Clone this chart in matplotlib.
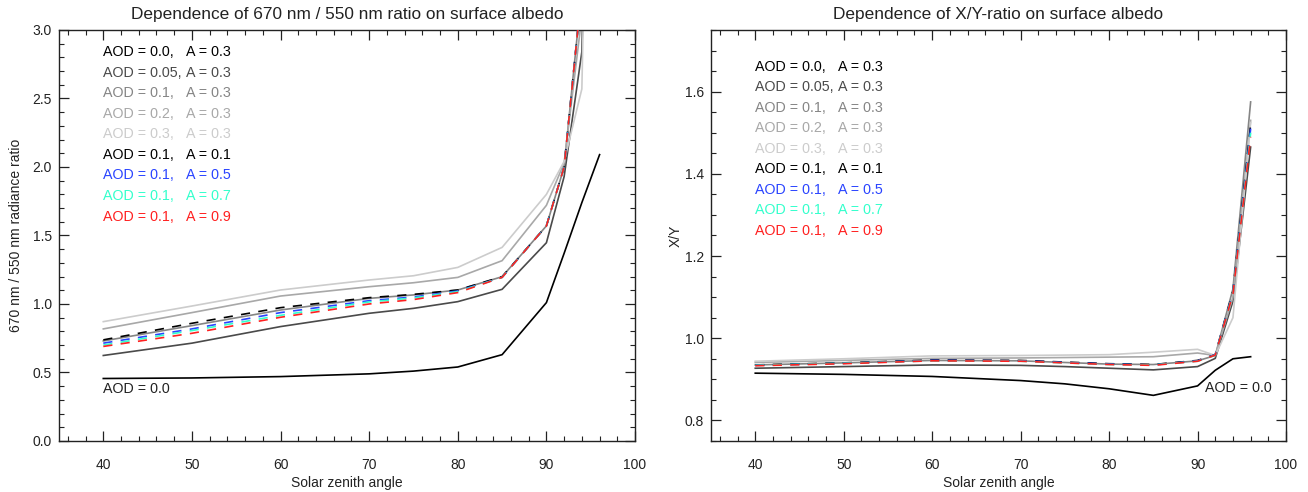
import matplotlib
matplotlib.use("Agg")
import matplotlib.pyplot as plt
from matplotlib.ticker import MultipleLocator
import matplotlib.transforms as mtransforms

plt.rcParams["font.family"] = ["Liberation Sans", "DejaVu Sans"]

# solar zenith angle grid
sza = [40, 50, 60, 70, 75, 80, 85, 90, 92, 94, 96]

# 670 nm / 550 nm radiance ratio (left panel)
ratio_aod00_a03 = [0.456, 0.46, 0.47, 0.49, 0.51, 0.54, 0.63, 1.01, 1.37, 1.74, 2.09]
ratio_aod005_a03 = [0.624, 0.714, 0.835, 0.932, 0.968, 1.017, 1.107, 1.447, 1.93, 2.84, 8.0]
ratio_aod01_a03 = [0.73, 0.842, 0.956, 1.041, 1.066, 1.102, 1.199, 1.57, 2.0, 3.3, 9.0]
ratio_aod02_a03 = [0.818, 0.937, 1.058, 1.126, 1.155, 1.194, 1.316, 1.72, 2.03, 3.1, 9.0]
ratio_aod03_a03 = [0.871, 0.985, 1.102, 1.175, 1.206, 1.267, 1.413, 1.80, 2.04, 2.57, 9.0]
ratio_aod01_a01 = [0.738, 0.859, 0.973, 1.046, 1.07, 1.102, 1.199, 1.57, 2.0, 3.3, 9.0]
ratio_aod01_a05 = [0.714, 0.818, 0.937, 1.024, 1.051, 1.095, 1.194, 1.57, 2.0, 3.3, 9.0]
ratio_aod01_a07 = [0.70, 0.806, 0.917, 1.015, 1.044, 1.09, 1.194, 1.57, 2.0, 3.3, 9.0]
ratio_aod01_a09 = [0.69, 0.786, 0.903, 1.0, 1.032, 1.083, 1.194, 1.57, 2.0, 3.3, 9.0]

# X/Y ratio (right panel)
xy_aod00_a03 = [0.915, 0.912, 0.907, 0.897, 0.889, 0.877, 0.861, 0.884, 0.922, 0.950, 0.955]
xy_aod005_a03 = [0.927, 0.931, 0.935, 0.934, 0.931, 0.927, 0.923, 0.931, 0.951, 1.09, 1.465]
xy_aod01_a03 = [0.935, 0.940, 0.946, 0.945, 0.941, 0.937, 0.936, 0.945, 0.958, 1.12, 1.575]
xy_aod02_a03 = [0.941, 0.946, 0.951, 0.952, 0.953, 0.954, 0.955, 0.964, 0.958, 1.10, 1.53]
xy_aod03_a03 = [0.944, 0.950, 0.957, 0.958, 0.959, 0.960, 0.966, 0.973, 0.958, 1.05, 1.525]
xy_aod01_a01 = [0.935, 0.940, 0.947, 0.946, 0.942, 0.938, 0.936, 0.946, 0.960, 1.115, 1.52]
xy_aod01_a05 = [0.934, 0.939, 0.946, 0.945, 0.941, 0.937, 0.935, 0.945, 0.960, 1.112, 1.51]
xy_aod01_a07 = [0.934, 0.939, 0.945, 0.944, 0.940, 0.936, 0.935, 0.944, 0.959, 1.11, 1.50]
xy_aod01_a09 = [0.933, 0.938, 0.945, 0.944, 0.940, 0.936, 0.934, 0.944, 0.959, 1.108, 1.49]

aod_labels = ["0.0", "0.05", "0.1", "0.2", "0.3", "0.1", "0.1", "0.1", "0.1"]
albedo_labels = ["0.3", "0.3", "0.3", "0.3", "0.3", "0.1", "0.5", "0.7", "0.9"]

COLORS = ["#000000", "#4a4a4a", "#858585", "#a8a8a8", "#cccccc",
          "#000000", "#2a44ff", "#33ffcc", "#ff2020"]
DASHED = [False] * 5 + [True] * 4

left_series = [ratio_aod00_a03, ratio_aod005_a03, ratio_aod01_a03, ratio_aod02_a03,
               ratio_aod03_a03, ratio_aod01_a01, ratio_aod01_a05, ratio_aod01_a07,
               ratio_aod01_a09]
right_series = [xy_aod00_a03, xy_aod005_a03, xy_aod01_a03, xy_aod02_a03, xy_aod03_a03,
                xy_aod01_a01, xy_aod01_a05, xy_aod01_a07, xy_aod01_a09]


def style_axes(ax, ymajor, yminor):
    ax.set_xlim(35, 100)
    ax.xaxis.set_major_locator(MultipleLocator(10))
    ax.xaxis.set_minor_locator(MultipleLocator(2))
    ax.yaxis.set_major_locator(MultipleLocator(ymajor))
    ax.yaxis.set_minor_locator(MultipleLocator(yminor))
    ax.tick_params(which="both", direction="in", top=True, right=True,
                   colors="#222222", labelcolor="#222222", labelsize=10)
    ax.tick_params(which="major", length=7, width=0.9)
    ax.tick_params(which="minor", length=3.5, width=0.8)
    ax.tick_params(axis="x", which="major", pad=12)
    ax.tick_params(axis="y", which="major", pad=5)
    for sp in ax.spines.values():
        sp.set_linewidth(1.0)
        sp.set_color("#222222")
    ax.set_xlabel("Solar zenith angle", fontsize=10, color="#222222")
    ax.xaxis.set_label_coords(0.5, -0.085)


def draw_panel(ax, series, legend_top):
    for ys, c, d in zip(series, COLORS, DASHED):
        if d:
            ax.plot(sza, ys, color=c, lw=1.2, dashes=(5.5, 5), zorder=3)
        else:
            ax.plot(sza, ys, color=c, lw=1.2, zorder=2)
    trans = mtransforms.blended_transform_factory(ax.transData, ax.transAxes)
    for i, (a, alb, c) in enumerate(zip(aod_labels, albedo_labels, COLORS)):
        yy = legend_top - 0.05 * i
        ax.text(40, yy, f"AOD = {a},", color=c, fontsize=10.3, va="center",
                ha="left", transform=trans)
        ax.text(49.3, yy, f"A = {alb}", color=c, fontsize=10.3, va="center",
                ha="left", transform=trans)


fig = plt.figure(figsize=(13.08, 4.92), dpi=100)
ax1 = fig.add_axes([0.0451, 0.1037, 0.4404, 0.8354])
ax2 = fig.add_axes([0.5436, 0.1037, 0.4396, 0.8354])

draw_panel(ax1, left_series, 0.946)
ax1.set_ylim(0, 3.0)
style_axes(ax1, 0.5, 0.1)
ax1.set_ylabel("670 nm / 550 nm radiance ratio", fontsize=10, color="#222222")
ax1.yaxis.set_label_coords(-0.062, 0.5)
ax1.set_title("Dependence of 670 nm / 550 nm ratio on surface albedo",
              fontsize=12.4, color="#222222", pad=8)
ax1.text(40, 0.38, "AOD = 0.0", fontsize=10.3, color="#222222", va="center", ha="left")

draw_panel(ax2, right_series, 0.911)
ax2.set_ylim(0.75, 1.75)
style_axes(ax2, 0.2, 0.05)
ax2.set_ylabel("X/Y", fontsize=10, color="#222222")
ax2.yaxis.set_label_coords(-0.05, 0.5)
ax2.set_title("Dependence of X/Y-ratio on surface albedo",
              fontsize=12.4, color="#222222", pad=8)
ax2.text(90.8, 0.879, "AOD = 0.0", fontsize=10.3, color="#222222", va="center", ha="left")

fig.savefig("out.png", dpi=100)
